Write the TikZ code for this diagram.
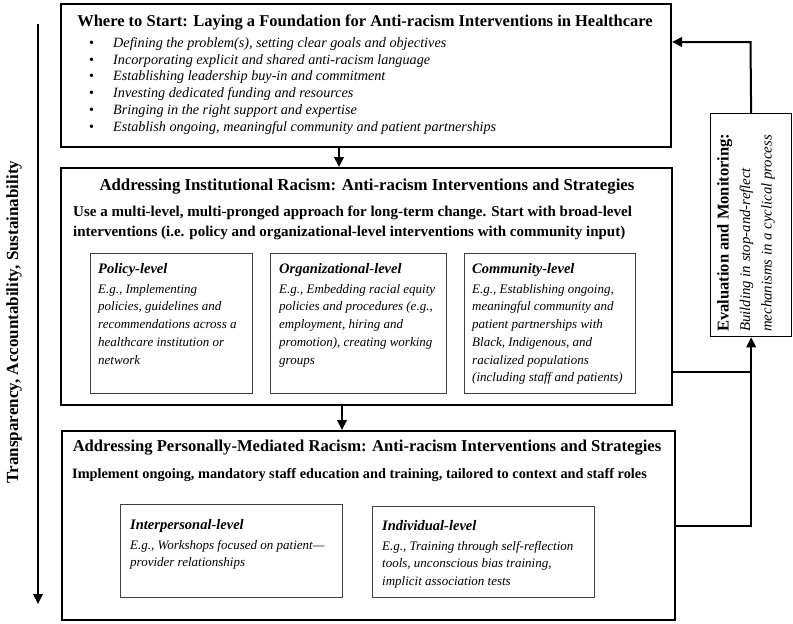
\documentclass[tikz,border=0pt]{standalone}
\usepackage{fontspec}
\setmainfont{Liberation Serif}
\usetikzlibrary{arrows.meta,positioning,calc}

\newcommand{\itembullet}{\makebox[24pt][l]{\upshape\textbullet}}

\begin{document}
\begin{tikzpicture}[x=1pt,y=-1pt,>={Triangle[length=10pt,width=9.5pt]},
	bigbox/.style={draw=black,line width=2pt,anchor=north west,inner sep=0pt},
	levelbox/.style={draw=black!75,line width=1pt,anchor=north west,inner sep=0pt},
	headtext/.style={font=\fontsize{16.5}{20}\selectfont\bfseries,inner sep=0pt},
	leadtext/.style={font=\fontsize{15}{20}\selectfont\bfseries,inner sep=0pt,align=left},
	itemtext/.style={font=\fontsize{14.2}{16.8}\selectfont\itshape,inner sep=0pt,align=left},
	leveltext/.style={font=\fontsize{13}{17.7}\selectfont\itshape,inner sep=0pt,align=left},
	flow/.style={line width=2pt}]
	\useasboundingbox (0,0) rectangle (793,624);
	\fill[white] (0,0) rectangle (793,624);

	% the three stages and the evaluation box
	\node (start) [bigbox,minimum width=610pt,minimum height=143pt] at (60,3) {};
	\node (inst) [bigbox,minimum width=611pt,minimum height=237pt] at (60,167) {};
	\node (pers) [bigbox,minimum width=613pt,minimum height=189pt] at (61,430) {};
	\node (eval) [bigbox,line width=1.3pt,minimum width=81pt,minimum height=223pt] at (710,113) {};

	\node (policy) [levelbox,minimum width=162pt,minimum height=140pt] at (90,253) {};
	\node (org) [levelbox,minimum width=176pt,minimum height=140pt] at (270,253) {};
	\node (comm) [levelbox,minimum width=171pt,minimum height=140pt] at (464,253) {};
	\node (inter) [levelbox,minimum width=222pt,minimum height=93pt] at (120,504) {};
	\node (indiv) [levelbox,minimum width=222pt,minimum height=91pt] at (372,506) {};

	\node (startHead) [headtext,anchor=base] at (365,26) {Where to Start: Laying a Foundation for Anti-racism Interventions in Healthcare};
	\node (startList) [itemtext,anchor=north west] at (89,37) {\itembullet Defining the problem(s), setting clear goals and objectives\\
		\itembullet Incorporating explicit and shared anti-racism language\\
		\itembullet Establishing leadership buy-in and commitment\\
		\itembullet Investing dedicated funding and resources\\
		\itembullet Bringing in the right support and expertise\\
		\itembullet Establish ongoing, meaningful community and patient partnerships};

	\node (instHead) [headtext,font=\fontsize{16.8}{20}\selectfont\bfseries,anchor=base] at (367,190) {Addressing Institutional Racism: Anti-racism Interventions and Strategies};
	\node (instLead) [leadtext,anchor=north west] at (73,206) {Use a multi-level, multi-pronged approach for long-term change. Start with broad-level\\
		interventions (i.e. policy and organizational-level interventions with community input)};

	\node (policyText) [leveltext,below right=10pt and 8pt of policy.north west] {{\fontsize{14.5}{17.7}\selectfont\bfseries Policy-level}\\[2.3pt]
		E.g., Implementing\\policies, guidelines and\\recommendations across a\\healthcare institution or\\network};
	\node (orgText) [leveltext,below right=10pt and 9pt of org.north west] {{\fontsize{14.5}{17.7}\selectfont\bfseries Organizational-level}\\[2.3pt]
		E.g., Embedding racial equity\\policies and procedures (e.g.,\\employment, hiring and\\promotion), creating working\\groups};
	\node (commText) [leveltext,below right=10pt and 8pt of comm.north west] {{\fontsize{14.5}{17.7}\selectfont\bfseries Community-level}\\[2.3pt]
		E.g., Establishing ongoing,\\meaningful community and\\patient partnerships with\\Black, Indigenous, and\\racialized populations\\(including staff and patients)};

	\node (persHead) [headtext,font=\fontsize{16.6}{20}\selectfont\bfseries,anchor=base] at (367,451) {Addressing Personally-Mediated Racism: Anti-racism Interventions and Strategies};
	\node (persLead) [leadtext,font=\fontsize{14.3}{20}\selectfont\bfseries,anchor=north west] at (72,468) {Implement ongoing, mandatory staff education and training, tailored to context and staff roles};

	\node (interText) [leveltext,below right=15pt and 10pt of inter.north west] {{\fontsize{14.5}{17.7}\selectfont\bfseries Interpersonal-level}\\[2.3pt]
		E.g., Workshops focused on patient---\\provider relationships};
	\node (indivText) [leveltext,below right=14pt and 10pt of indiv.north west] {{\fontsize{14.5}{17.7}\selectfont\bfseries Individual-level}\\[2.3pt]
		E.g., Training through self-reflection\\tools, unconscious bias training,\\implicit association tests};

	\node (evalText) [rotate=90,anchor=north west,inner sep=0pt,align=left,font=\fontsize{14.8}{21.5}\selectfont\itshape] at (717,332)
		{{\fontsize{16.5}{21.5}\selectfont\bfseries\upshape Evaluation and Monitoring:}\\Building in stop-and-reflect\\mechanisms in a cyclical process};

	\node (tasLabel) [rotate=90,inner sep=0pt,font=\fontsize{17}{20}\selectfont\bfseries] at (14,322) {Transparency, Accountability, Sustainability};

	% connectors
	\coordinate (tasTop) at (38,24);
	\coordinate (tasEnd) at (38,604);
	\draw[flow,->] (tasTop) -- (tasEnd);

	\coordinate (downA) at (339,0);
	\coordinate (downB) at (342,0);
	\draw[flow,->] (start.south -| downA) -- (inst.north -| downA);
	\draw[flow,->] (inst.south -| downB) -- (pers.north -| downB);

	\coordinate (loopMid) at (750.5,372);
	\coordinate (loopTop) at (750.5,42);
	\draw[flow] (inst.east |- loopMid) -- (loopMid);
	\draw[flow,->] (pers.east) -- (pers.east -| eval.south) -- (eval.south);
	\draw[flow,->] (eval.north) -- (loopTop) -- (loopTop -| start.east);
\end{tikzpicture}
\end{document}
